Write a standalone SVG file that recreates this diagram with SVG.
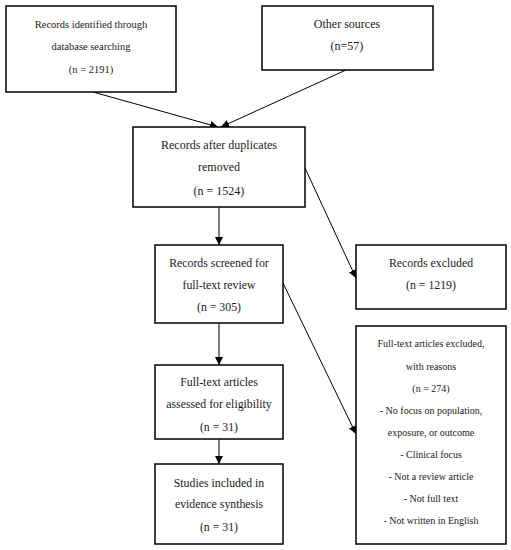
<svg xmlns="http://www.w3.org/2000/svg" width="511" height="550" viewBox="0 0 511 550">
<defs>
<marker id="ah" viewBox="0 0 10 10" refX="10" refY="5" markerWidth="8" markerHeight="8" orient="auto" markerUnits="userSpaceOnUse">
<path d="M0,0 L10,5 L0,10 Z" fill="#000"/>
</marker>
<style>
.box{fill:#fff;stroke:#000;stroke-width:1.5}
text{font-family:"Liberation Serif","Times New Roman",serif;fill:#1a1a1a;text-anchor:middle}
.s{font-size:10.5px}
.m{font-size:11.8px}
.l{font-size:12px}
.e{font-size:10px}
.c{fill:none;stroke:#000;stroke-width:1;marker-end:url(#ah)}
</style>
</defs>
<rect width="511" height="550" fill="#fff"/>
<g id="connectors">
<line class="c" x1="93" y1="92" x2="218" y2="127"/>
<line class="c" x1="346" y1="70" x2="221" y2="127"/>
<line class="c" x1="219" y1="207" x2="219" y2="245"/>
<line class="c" x1="305" y1="168" x2="356" y2="278"/>
<line class="c" x1="219" y1="323" x2="219" y2="365"/>
<line class="c" x1="283" y1="283" x2="356" y2="434"/>
<line class="c" x1="219" y1="439" x2="219" y2="464"/>
</g>
<g id="n-database">
<rect class="box" x="6" y="6" width="170" height="86"/>
<text class="s" x="91" y="28">Records identified through</text>
<text class="s" x="91" y="50">database searching</text>
<text class="s" x="91" y="73">(n = 2191)</text>
</g>
<g id="n-other">
<rect class="box" x="262" y="6" width="171" height="64"/>
<text class="l" x="347" y="28">Other sources</text>
<text class="l" x="347" y="50">(n=57)</text>
</g>
<g id="n-dup">
<rect class="box" x="133" y="127" width="172" height="80"/>
<text class="l" x="219" y="149">Records after duplicates</text>
<text class="l" x="219" y="171">removed</text>
<text class="l" x="219" y="195">(n = 1524)</text>
</g>
<g id="n-screened">
<rect class="box" x="155" y="245" width="128" height="78"/>
<text class="m" x="219" y="267">Records screened for</text>
<text class="m" x="219" y="289">full-text review</text>
<text class="m" x="219" y="311">(n = 305)</text>
</g>
<g id="n-excluded">
<rect class="box" x="356" y="245" width="150" height="64"/>
<text class="m" x="431" y="267">Records excluded</text>
<text class="m" x="431" y="289">(n = 1219)</text>
</g>
<g id="n-fulltext">
<rect class="box" x="155" y="365" width="128" height="74"/>
<text class="m" x="219" y="386">Full-text articles</text>
<text class="m" x="219" y="408">assessed for eligibility</text>
<text class="m" x="219" y="431">(n = 31)</text>
</g>
<g id="n-studies">
<rect class="box" x="155" y="464" width="128" height="80"/>
<text class="m" x="219" y="487">Studies included in</text>
<text class="m" x="219" y="508">evidence synthesis</text>
<text class="m" x="219" y="531">(n = 31)</text>
</g>
<g id="n-ftexcluded">
<rect class="box" x="356" y="326" width="150" height="218"/>
<text class="e" x="431" y="347">Full-text articles excluded,</text>
<text class="e" x="431" y="370">with reasons</text>
<text class="e" x="431" y="392">(n = 274)</text>
<text class="e" x="431" y="414">- No focus on population,</text>
<text class="e" x="431" y="436">exposure, or outcome</text>
<text class="e" x="431" y="458">- Clinical focus</text>
<text class="e" x="431" y="480">- Not a review article</text>
<text class="e" x="431" y="502">- Not full text</text>
<text class="e" x="431" y="524">- Not written in English</text>
</g>
</svg>
